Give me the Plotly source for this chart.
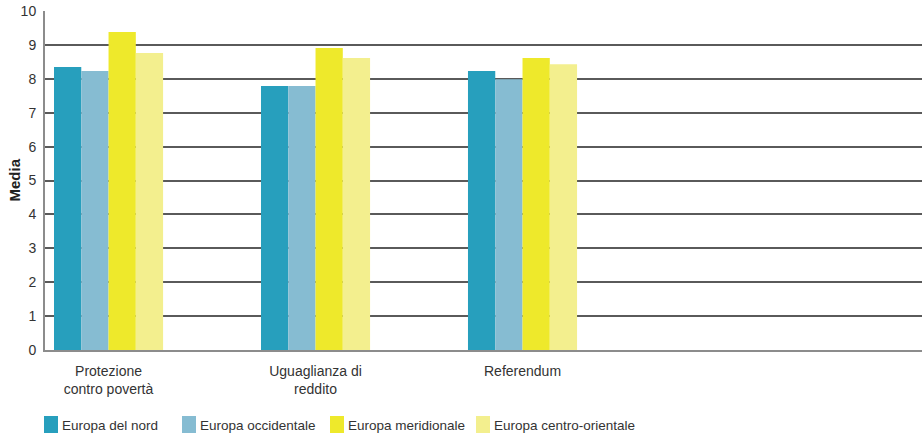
import plotly.graph_objects as go

# Categories and group means
categories = ["Protezione<br>contro povertà", "Uguaglianza di<br>reddito", "Referendum"]
series_names = ["Europa del nord", "Europa occidentale", "Europa meridionale", "Europa centro-orientale"]
nord = [8.35, 7.79, 8.23]
occidentale = [8.23, 7.79, 7.99]
meridionale = [9.38, 8.91, 8.61]
centro_orientale = [8.76, 8.61, 8.43]
y_ticks = list(range(0, 11))

colors = ["#279FBD", "#86BCD2", "#EEE92B", "#F3EF8E"]
values = [nord, occidentale, meridionale, centro_orientale]

W, H = 922, 435
ML, MR, MT, MB = 45, 0, 11, 85
PW, PH = W - ML - MR, H - MT - MB

fig = go.Figure()
x_idx = list(range(len(categories)))
for name, vals, col in zip(series_names, values, colors):
    fig.add_trace(go.Bar(x=x_idx, y=vals, name=name, marker=dict(color=col, line=dict(width=0)),
                         showlegend=False))

font_family = "Liberation Sans, Arial, sans-serif"

fig.update_layout(
    width=W, height=H,
    margin=dict(l=ML, r=MR, t=MT, b=MB, pad=0),
    paper_bgcolor="white", plot_bgcolor="white",
    barmode="group", bargap=0.473, bargroupgap=0,
    font=dict(family=font_family, size=13, color="#333333"),
    xaxis=dict(range=[-0.307, 3.93], tickvals=x_idx, ticktext=categories,
               showgrid=False, zeroline=False, showline=True, linecolor="#8c8c8c", linewidth=2,
               ticks="", tickfont=dict(size=14, color="#333333"), ticklabelstandoff=7),
    yaxis=dict(range=[0, 10], tickvals=y_ticks, showgrid=True, gridcolor="#5a5a5a", gridwidth=1.5,
               zeroline=False, showline=True, linecolor="#8c8c8c", linewidth=2,
               ticks="", tickfont=dict(size=14, color="#333333"), ticklabelstandoff=4),
)

# Pixel positions converted to paper units
def px_x(px):
    return (px - ML) / PW

def px_y(py):
    return (H - MB - py) / PH

# Vertical axis title
fig.add_annotation(xref="paper", yref="paper", x=px_x(14), y=0.5, textangle=-90,
                   xanchor="center", yanchor="middle", showarrow=False,
                   text="<b>Media</b>", font=dict(size=15, color="#222222"))

# Custom legend row beneath the plot
legend_x = [44, 182, 330, 476]
for lx, name, col in zip(legend_x, series_names, colors):
    fig.add_shape(type="rect", xref="paper", yref="paper",
                  x0=px_x(lx), x1=px_x(lx + 14), y0=px_y(433), y1=px_y(416),
                  fillcolor=col, line=dict(width=0))
    fig.add_annotation(xref="paper", yref="paper", x=px_x(lx + 16), y=px_y(425),
                       xanchor="left", yanchor="middle", showarrow=False,
                       text=name, font=dict(size=13.5, color="#333333"))

fig.write_html("out.html")
